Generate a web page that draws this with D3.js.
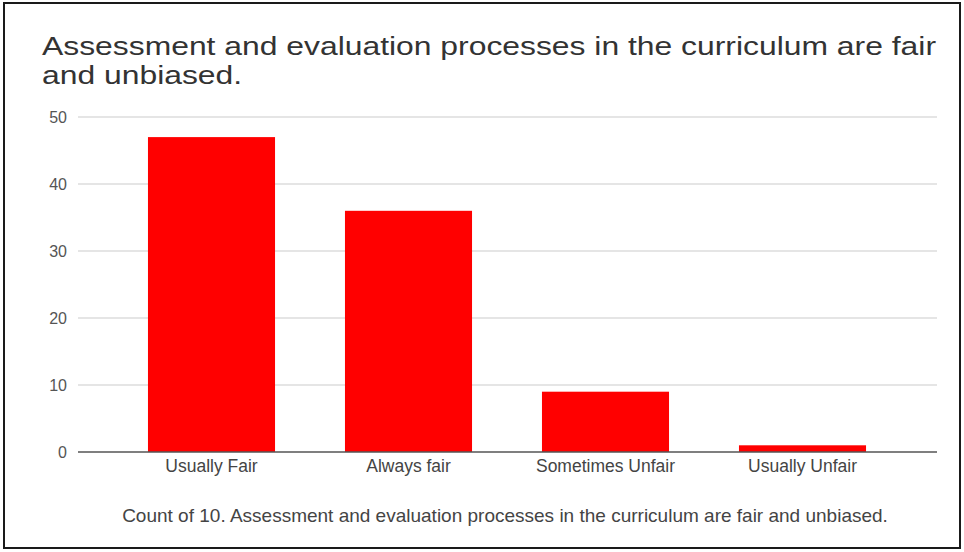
<!DOCTYPE html>
<html>
<head>
<meta charset="utf-8">
<script src="https://cdn.jsdelivr.net/npm/d3@7"></script>
<style>
  html, body { margin: 0; padding: 0; background: #fff; }
  svg { display: block; font-family: "Liberation Sans", Arial, sans-serif; }
</style>
</head>
<body>
<svg id="chart" width="964" height="552"></svg>
<script>
const categories = ["Usually Fair", "Always fair", "Sometimes Unfair", "Usually Unfair"];
const counts = [47, 36, 9, 1];
const yTicks = [0, 10, 20, 30, 40, 50];
const titleLines = ["Assessment and evaluation processes in the curriculum are fair", "and unbiased."];
const xAxisTitle = "Count of 10. Assessment and evaluation processes in the curriculum are fair and unbiased.";

const svg = d3.select("#chart");

// outer frame
svg.append("rect").attr("x", 4).attr("y", 3).attr("width", 956).attr("height", 545)
  .attr("fill", "#fff").attr("stroke", "#1a1a1a").attr("stroke-width", 2);

const plotLeft = 78, plotRight = 937;
const y = d3.scaleLinear().domain([0, 50]).range([452, 117]);
const x = d3.scaleBand().domain(categories).range([113, 901]).paddingInner(0.355).paddingOuter(0.1775);

function fitWidth(sel, target) {
  const w = sel.node().getComputedTextLength();
  const fs = parseFloat(sel.attr("font-size"));
  sel.attr("font-size", (fs * target / w).toFixed(2));
}

// title: two lines, stretched to the reference width
const title = svg.append("g").attr("fill", "#333");
const spans = title.selectAll("text").data(titleLines).join("text")
  .attr("font-size", 25)
  .attr("x", 42).attr("y", (d, i) => 55 + i * 28.5).text(d => d);
const lens = spans.nodes().map(n => n.getComputedTextLength());
const scaleX = 894 / lens[0];
spans.attr("textLength", (d, i) => lens[i] * scaleX).attr("lengthAdjust", "spacingAndGlyphs");

// gridlines
svg.append("g").selectAll("line").data(yTicks.filter(d => d !== 0)).join("line")
  .attr("x1", plotLeft).attr("x2", plotRight)
  .attr("y1", d => y(d)).attr("y2", d => y(d))
  .attr("stroke", "#dcdcdc").attr("stroke-width", 1.5);

// y axis labels
const yAxis = d3.axisLeft(y).tickValues(yTicks).tickSize(0).tickPadding(0);
const gy = svg.append("g").attr("transform", "translate(67,0)").call(yAxis);
gy.select(".domain").remove();
gy.selectAll("text").attr("font-size", 16).attr("fill", "#555")
  .attr("font-family", "'Liberation Sans', Arial, sans-serif");

// bars
svg.append("g").selectAll("rect").data(counts).join("rect")
  .attr("x", (d, i) => x(categories[i]))
  .attr("width", x.bandwidth())
  .attr("y", d => y(d))
  .attr("height", d => y(0) - y(d))
  .attr("fill", "#ff0000");

// baseline
svg.append("line").attr("x1", plotLeft).attr("x2", plotRight)
  .attr("y1", y(0)).attr("y2", y(0)).attr("stroke", "#555").attr("stroke-width", 1.5);

// x axis labels
const xAxis = d3.axisBottom(x).tickSize(0).tickPadding(0);
const gx = svg.append("g").attr("transform", "translate(0,460)").call(xAxis);
gx.select(".domain").remove();
gx.selectAll("text").attr("font-size", 17.5).attr("fill", "#444")
  .attr("font-family", "'Liberation Sans', Arial, sans-serif");

// x axis title
const xt = svg.append("text").attr("x", 505).attr("y", 522).attr("text-anchor", "middle")
  .attr("font-size", 16).attr("fill", "#444").text(xAxisTitle);
fitWidth(xt, 766);
</script>
</body>
</html>
